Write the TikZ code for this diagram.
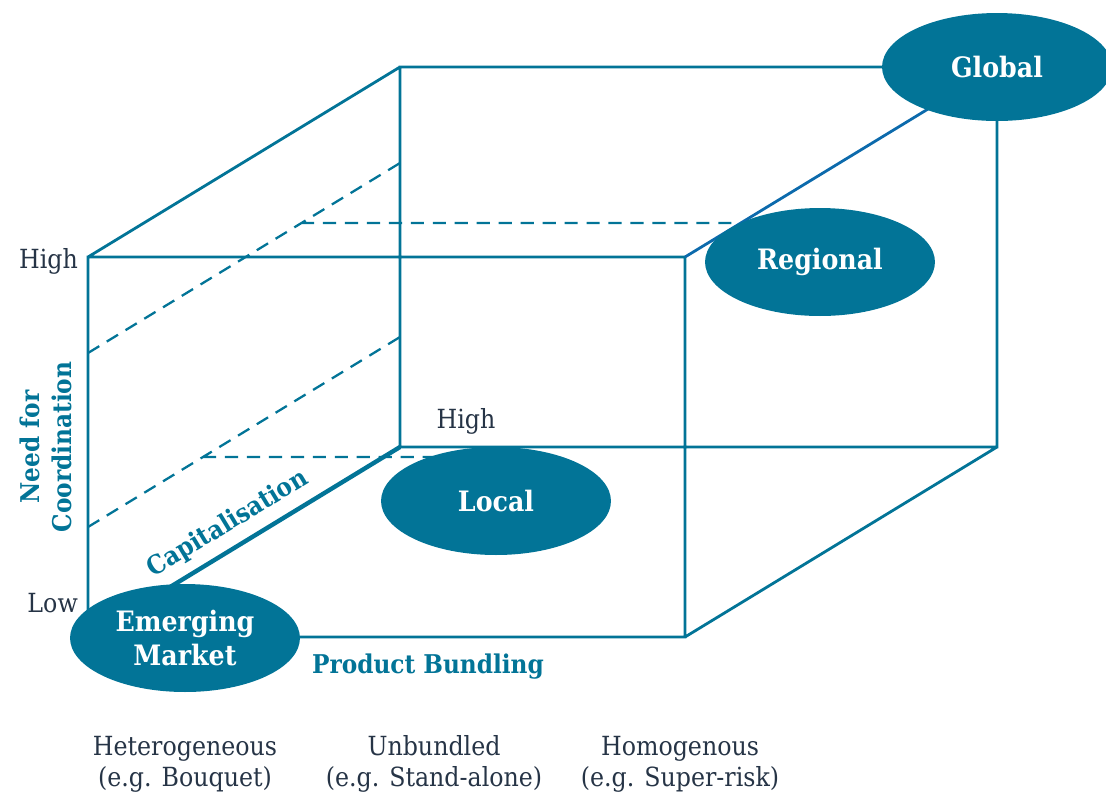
\documentclass[tikz,border=0pt]{standalone}
\usepackage{fontspec}
\setmainfont{DejaVu Serif Condensed}
\usetikzlibrary{positioning, shapes.geometric}
\definecolor{cubeteal}{RGB}{2,116,151}
\definecolor{edgeblue}{RGB}{12,106,172}
\definecolor{labelink}{RGB}{38,52,70}
\tikzset{
x=0.02cm, y=-0.02cm, % one unit is one pixel of the sketch
edge/.style={draw=cubeteal, line width=1.6pt}, % the solid edges of the cube
hidden/.style={draw=cubeteal, line width=1.3pt, dash pattern=on 7.5pt off 5pt}, % the dashed planes
market/.style={ellipse, fill=cubeteal, text=white, inner sep=0pt, minimum width=4.6cm, minimum height=2.16cm, align=center, font=\bfseries\fontsize{16}{19.5}\selectfont}, % the market ellipses
axis/.style={text=cubeteal, align=center, font=\bfseries\fontsize{14.7}{18}\selectfont}, % axis titles
tick/.style={text=labelink, align=center, font=\fontsize{15}{17.5}\selectfont}, % axis values
}

\begin{document}
\begin{tikzpicture}
      \useasboundingbox (0,0) rectangle (1106,796);

      % corners of the cube
      \coordinate (ftl) at (88,257);
      \coordinate (ftr) at (685,257);
      \coordinate (fbl) at (88,637);
      \coordinate (fbr) at (685,637);
      \coordinate (btl) at (400,67);
      \coordinate (btr) at (997,67);
      \coordinate (bbl) at (400,447);
      \coordinate (bbr) at (997,447);

      % ends of the dashed lines
      \coordinate (uf) at (88,353);
      \coordinate (ub) at (400,163);
      \coordinate (um) at (301,223);
      \coordinate (ue) at (741,223);
      \coordinate (lf) at (88,527);
      \coordinate (lb) at (400,337);
      \coordinate (lm) at (203,457);
      \coordinate (le) at (496,457);

      \draw[hidden] (uf) -- (ub)
      (lf) -- (lb)
      (um) -- (ue)
      (lm) -- (le);

      \draw[edge] (ftl) -- (ftr) -- (fbr) -- (fbl) -- cycle
      (btl) -- (btr) -- (bbr) -- (bbl) -- cycle
      (ftl) -- (btl)
      (fbr) -- (bbr);
      \draw[edge, draw=edgeblue] (ftr) -- (btr);
      \draw[edge, line width=2.5pt] (fbl) -- (bbl);

      \node[market] (global) at (997,67) {Global};
      \node[market] (regional) at (820,262) {Regional};
      \node[market] (local) at (496,501) {Local};
      \node[market] (emerging) at (185,638) {Emerging\\Market};

      \node[tick, anchor=east] (yhigh) at (84,261) {High};
      \node[tick, anchor=east] (ylow) at (84,603) {Low};
      \node[tick] (xhigh) at (466,421) {High};
      \node[axis, rotate=90] (need) at (46,447) {Need for\\Coordination};
      \node[axis, rotate=31.3] (capital) at (228,524) {Capitalisation};
      \node[axis] (bundling) at (428,667) {Product Bundling};

      \node[tick] (hetero) at (185,764) {Heterogeneous\\(e.g. Bouquet)};
      \node[tick] (unbundled) at (434,764) {Unbundled\\(e.g. Stand-alone)};
      \node[tick] (homo) at (680,764) {Homogenous\\(e.g. Super-risk)};
    \end{tikzpicture}
\end{document}
